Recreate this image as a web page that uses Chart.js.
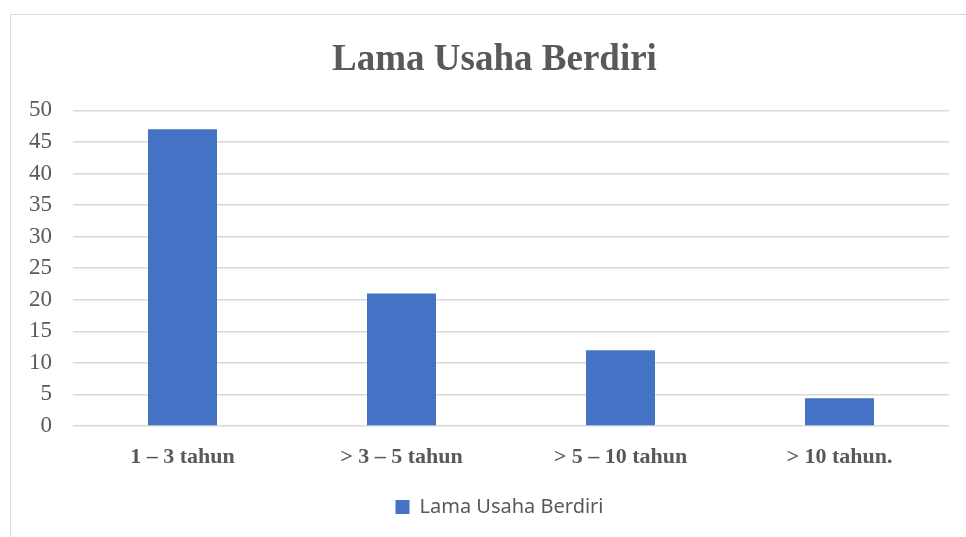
<!DOCTYPE html>
<html>
<head>
<meta charset="utf-8">
<script src="https://cdn.jsdelivr.net/npm/chart.js@4"></script>
<style>
  html, body { margin: 0; padding: 0; background: #fff; overflow: hidden; }
  #frame {
    position: absolute; left: 10px; top: 14px; width: 1200px; height: 800px;
    border-left: 1.5px solid #d9d9d9; border-top: 1.5px solid #d9d9d9;
  }
  #wrap { position: absolute; left: 0; top: 0; width: 966px; height: 537px; }
</style>
</head>
<body>
<div id="frame"></div>
<div id="wrap"><canvas id="chart"></canvas></div>
<script>
var categories = ['1 – 3 tahun', '> 3 – 5 tahun', '> 5 – 10 tahun', '> 10 tahun.'];
var lamaUsaha = [47, 21, 12, 4.4];

// the title and legend sit a little right of the canvas centre in the original
const shiftBoxes = {
  id: 'shiftBoxes',
  afterLayout(chart) {
    if (chart.titleBlock) { chart.titleBlock.left += 20; chart.titleBlock.right += 20; }
    if (chart.legend) { chart.legend.left += 25; chart.legend.right += 25; }
  },
};

const data = {
  labels: categories,
  datasets: [
    {
      label: 'Lama Usaha Berdiri',
      data: lamaUsaha,
      backgroundColor: '#4472c4',
      borderWidth: 0,
      barPercentage: 0.315,
      categoryPercentage: 1,
    },
  ],
};

const config = {
  type: 'bar',
  data: data,
  plugins: [shiftBoxes],
  options: {
    responsive: true,
    maintainAspectRatio: false,
    animation: false,
    layout: {
      padding: { left: 0, right: 17, top: 0, bottom: 10 },
    },
    plugins: {
      title: {
        display: true,
        text: 'Lama Usaha Berdiri',
        color: '#595959',
        font: { family: "'Liberation Serif', 'Times New Roman', serif", size: 37, weight: 'bold' },
        padding: { top: 38, bottom: 28 },
      },
      legend: {
        position: 'bottom',
        labels: {
          color: '#595959',
          boxWidth: 14,
          boxHeight: 14,
          padding: 10,
          font: { family: "'Noto Sans', 'Liberation Sans', sans-serif", size: 20 },
        },
      },
      tooltip: { enabled: false },
    },
    scales: {
      x: {
        grid: { display: false, drawTicks: false },
        border: { display: false },
        ticks: {
          color: '#595959',
          padding: 18,
          font: { family: "'Liberation Serif', 'Times New Roman', serif", size: 22, weight: 'bold' },
        },
        afterFit: function (scale) { scale.height = 61; },
      },
      y: {
        min: 0,
        max: 50,
        ticks: {
          stepSize: 5,
          color: '#595959',
          padding: 21,
          font: { family: "'Liberation Serif', 'Times New Roman', serif", size: 23 },
        },
        grid: { color: '#d9d9d9', lineWidth: 1.5, drawTicks: false },
        border: { display: false },
        afterFit: function (scale) { scale.width = 73; },
      },
    },
  },
};

var myChart = new Chart(document.getElementById('chart'), config);
</script>
</body>
</html>
